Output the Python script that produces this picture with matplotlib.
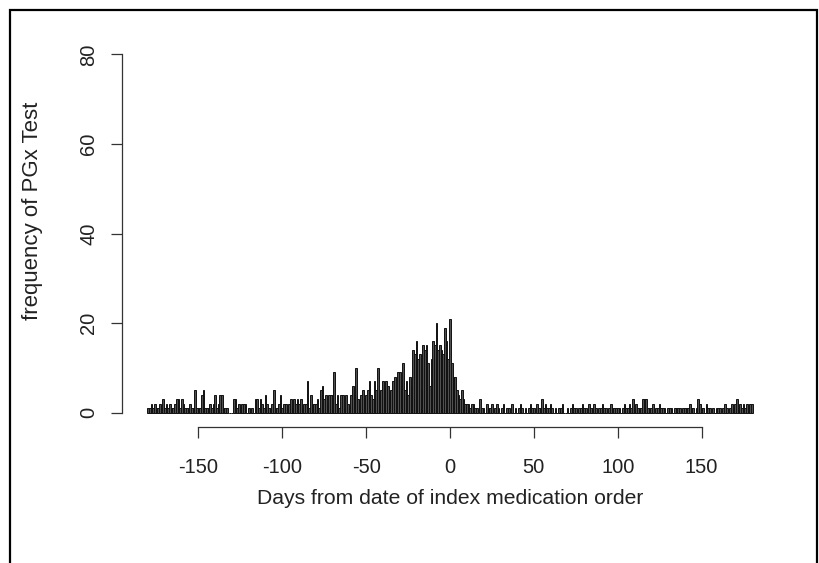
import matplotlib
matplotlib.use("Agg")
import matplotlib.pyplot as plt
from matplotlib.patches import Rectangle

plt.rcParams['font.family'] = ['Liberation Sans', 'DejaVu Sans']

days = list(range(-180, 181))
counts = [
    # -180 .. -171
    1, 1, 2, 1, 2, 1, 1, 2, 1, 3,
    # -170 .. -161
    1, 2, 1, 2, 1, 1, 2, 3, 3, 1,
    # -160 .. -151
    3, 2, 1, 1, 1, 2, 1, 1, 5, 1,
    # -150 .. -141
    1, 1, 4, 5, 1, 1, 1, 2, 1, 2,
    # -140 .. -131
    4, 1, 2, 4, 4, 1, 1, 1, 0, 0,
    # -130 .. -121
    0, 3, 3, 1, 2, 1, 2, 2, 2, 0,
    # -120 .. -111
    1, 0, 1, 0, 3, 3, 1, 3, 2, 1,
    # -110 .. -101
    4, 2, 1, 1, 2, 5, 1, 1, 2, 4,
    # -100 .. -91
    1, 2, 2, 1, 2, 3, 1, 3, 2, 3,
    # -90 .. -81
    2, 3, 1, 2, 2, 7, 1, 4, 2, 2,
    # -80 .. -71
    2, 3, 1, 5, 6, 3, 4, 2, 4, 4,
    # -70 .. -61
    4, 9, 2, 4, 1, 4, 4, 1, 4, 2,
    # -60 .. -51
    1, 4, 6, 4, 10, 3, 2, 4, 5, 3,
    # -50 .. -41
    4, 5, 7, 4, 3, 7, 5, 10, 4, 5,
    # -40 .. -31
    7, 5, 7, 6, 4, 5, 7, 8, 5, 9,
    # -30 .. -21
    9, 6, 11, 5, 7, 4, 8, 6, 14, 13,
    # -20 .. -11
    16, 12, 13, 5, 15, 14, 15, 11, 6, 12,
    # -10 .. -1
    16, 15, 20, 14, 15, 14, 13, 19, 16, 12,
    # 0 .. 9
    21, 11, 8, 8, 5, 4, 3, 5, 3, 2,
    # 10 .. 19
    2, 2, 1, 2, 2, 1, 1, 0, 3, 1,
    # 20 .. 29
    1, 0, 2, 1, 1, 2, 0, 1, 2, 1,
    # 30 .. 39
    0, 1, 2, 0, 1, 1, 0, 2, 0, 1,
    # 40 .. 49
    0, 1, 2, 1, 0, 1, 0, 1, 2, 1,
    # 50 .. 59
    1, 0, 2, 1, 1, 3, 1, 2, 1, 1,
    # 60 .. 69
    2, 1, 0, 1, 0, 1, 1, 2, 0, 0,
    # 70 .. 79
    1, 0, 1, 2, 1, 1, 0, 1, 1, 2,
    # 80 .. 89
    1, 1, 0, 2, 1, 1, 2, 1, 0, 1,
    # 90 .. 99
    1, 2, 1, 1, 0, 1, 2, 1, 1, 1,
    # 100 .. 109
    1, 1, 0, 1, 2, 1, 1, 2, 1, 3,
    # 110 .. 119
    1, 2, 1, 1, 1, 3, 3, 3, 1, 1,
    # 120 .. 129
    1, 2, 0, 1, 1, 2, 1, 1, 1, 0,
    # 130 .. 139
    1, 1, 1, 0, 1, 1, 1, 1, 0, 1,
    # 140 .. 149
    1, 1, 1, 2, 1, 1, 0, 1, 3, 2,
    # 150 .. 159
    1, 1, 0, 2, 1, 1, 0, 1, 0, 1,
    # 160 .. 169
    1, 1, 0, 1, 2, 1, 0, 1, 2, 1,
    # 170 .. 179
    2, 3, 1, 2, 1, 2, 1, 2, 1, 2,
    # 180
    2,
]

xticks = [-150, -100, -50, 0, 50, 100, 150]
yticks = [0, 20, 40, 60, 80]

W, H = 820, 563
fig = plt.figure(figsize=(W / 100, H / 100), dpi=100)

# plot region: x from 122px to 778px, y from 40px to 427px
left, right = 122 / W, 778 / W
top, bottom = 1 - 40 / H, 1 - 427 / H
ax = fig.add_axes([left, bottom, right - left, top - bottom])

ax.bar(days, counts, width=1.0, color='#505050', edgecolor='#111111',
       linewidth=0.7, align='center')

ax.set_xlim(-195.6, 195.6)
ax.set_ylim(-3.2, 83.2)

for s in ['top', 'right']:
    ax.spines[s].set_visible(False)
ax.spines['left'].set_bounds(0, 80)
ax.spines['bottom'].set_bounds(-150, 150)
ax.spines['left'].set_linewidth(0.9)
ax.spines['bottom'].set_linewidth(0.9)
ax.spines['left'].set_color('#333333')
ax.spines['bottom'].set_color('#333333')

ax.set_xticks(xticks)
ax.set_xticklabels([str(t) for t in xticks])
ax.set_yticks(yticks)
ax.set_yticklabels([str(t) for t in yticks], rotation=90, va='center')
ax.tick_params(axis='both', direction='out', length=8, width=0.9,
               color='#333333', labelsize=14.5, labelcolor='#222222')
ax.tick_params(axis='x', pad=14)
ax.tick_params(axis='y', pad=9)

ax.set_xlabel('Days from date of index medication order', fontsize=15.2,
              color='#222222')
ax.set_ylabel('frequency of PGx Test', fontsize=16, color='#222222')
# place labels in pixel positions matching the reference
ax.xaxis.set_label_coords((450 - 122) / (778 - 122), 1 - (498 - 40) / (427 - 40))
ax.xaxis.label.set_va('center')
ax.yaxis.set_label_coords((33 - 122) / (778 - 122), 1 - (211 - 40) / (427 - 40))
ax.yaxis.label.set_va('center')

# outer frame
fig.patches.append(Rectangle((10 / W, -0.05), (817 - 10) / W, 1 - 10 / H + 0.05,
                             transform=fig.transFigure, fill=False,
                             edgecolor='black', linewidth=1.6))

fig.savefig('out.png', dpi=100)
